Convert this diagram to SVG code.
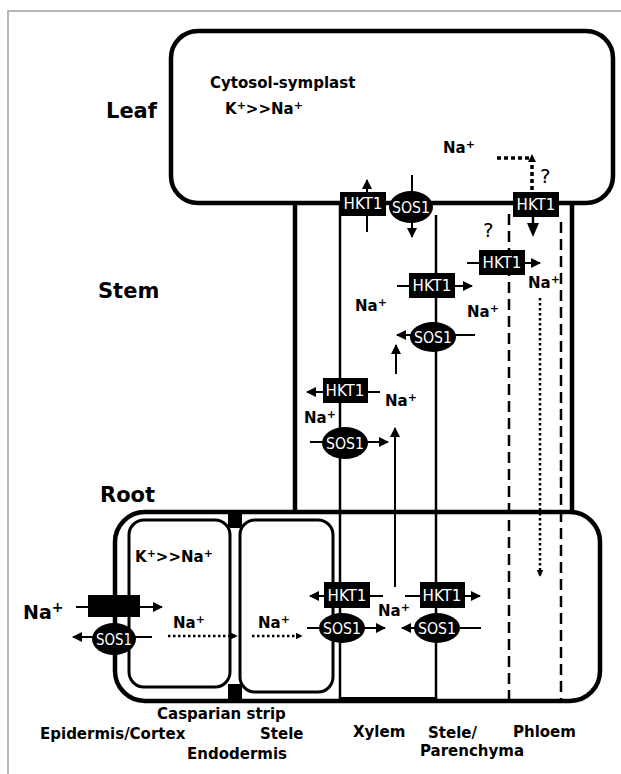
<svg xmlns="http://www.w3.org/2000/svg" width="621" height="774" viewBox="0 0 621 774">
<defs>
<style>
.lbl{font-family:"DejaVu Sans",Verdana,sans-serif;font-weight:bold;font-size:15px;fill:#000}
.big{font-family:"DejaVu Sans",Verdana,sans-serif;font-weight:bold;font-size:21px;fill:#000}
.q{font-family:"DejaVu Sans",Verdana,sans-serif;font-size:20px;fill:#000}
.w{font-family:"DejaVu Sans",Verdana,sans-serif;font-size:15px;fill:#fff;text-anchor:middle}
.thick{fill:none;stroke:#000;stroke-width:4.5}
.thin{fill:none;stroke:#000;stroke-width:2.5}
.cell{fill:none;stroke:#000;stroke-width:3}
.dash{fill:none;stroke:#000;stroke-width:2.5;stroke-dasharray:11 6}
.arr{fill:none;stroke:#000;stroke-width:2;marker-end:url(#ah)}
.dot{fill:none;stroke:#000;stroke-width:2.5;stroke-dasharray:2.5 2.5}
.dotb{fill:none;stroke:#000;stroke-width:3.5;stroke-dasharray:4 3}
.box{fill:#000}
</style>
<marker id="ah" viewBox="0 0 10 10" refX="9" refY="5" markerWidth="10" markerHeight="10" markerUnits="userSpaceOnUse" orient="auto">
<path d="M0,0 L10,5 L0,10 z" fill="#000"/>
</marker>
<marker id="ahs" viewBox="0 0 10 10" refX="9" refY="5" markerWidth="7" markerHeight="7" markerUnits="userSpaceOnUse" orient="auto">
<path d="M0,0 L10,5 L0,10 z" fill="#000"/>
</marker>
</defs>
<rect width="621" height="774" fill="#fff"/>
<path d="M8,774 V11 H621" fill="none" stroke="#a0a0a0" stroke-width="1.5"/>

<!-- organ labels -->
<text class="big" x="106" y="118">Leaf</text>
<text class="big" x="98" y="298">Stem</text>
<text class="big" x="100" y="502">Root</text>

<!-- structure -->
<g id="leaf">
<rect class="thick" x="171" y="31" width="442" height="172" rx="27"/>
<text class="lbl" x="210" y="88">Cytosol-symplast</text>
<text class="lbl" x="225" y="114">K<tspan font-size="11" dy="-5">+</tspan><tspan dy="5">&gt;&gt;Na</tspan><tspan font-size="11" dy="-5">+</tspan></text>
</g>
<g id="stem">
<line class="thick" x1="295" y1="203" x2="295" y2="512"/>
<line class="thick" x1="572" y1="203" x2="572" y2="512"/>
</g>
<g id="root">
<rect class="thick" x="115" y="512" width="485" height="189" rx="30"/>
<rect class="box" x="340" y="697" width="97" height="6"/>
<rect class="cell" x="129" y="520" width="101" height="167" rx="15"/>
<rect class="cell" x="240" y="520" width="93" height="172" rx="15"/>
<rect class="box" x="228" y="512" width="14" height="16"/>
<rect class="box" x="228" y="684" width="14" height="17"/>
<text class="lbl" x="135" y="562">K<tspan font-size="11" dy="-5">+</tspan><tspan dy="5">&gt;&gt;Na</tspan><tspan font-size="11" dy="-5">+</tspan></text>
</g>

<g id="connectors">
<!-- vascular lines -->
<line class="thin" x1="340" y1="203" x2="340" y2="701"/>
<line class="thin" x1="436" y1="215" x2="436" y2="701"/>
<line class="dash" x1="509" y1="214" x2="509" y2="701"/>
<line class="dash" x1="561" y1="222" x2="561" y2="701"/>
<!-- leaf -->
<line class="arr" x1="367" y1="232" x2="367" y2="180"/>
<line class="arr" x1="412" y1="175" x2="412" y2="237"/>
<path class="dotb" d="M497,158 H532 V191"/>
<path d="M528,162 L532,154 L536,162 z" fill="#000"/>
<line x1="533" y1="215" x2="533" y2="225" stroke="#000" stroke-width="2.5"/>
<path d="M527,223 L539,223 L533,237 z" fill="#000"/>
<!-- stem -->
<line class="arr" x1="467" y1="263" x2="540" y2="263"/>
<line class="arr" x1="397" y1="286" x2="472" y2="286"/>
<line class="arr" x1="475" y1="335" x2="397" y2="335"/>
<line class="arr" x1="396" y1="374" x2="396" y2="345"/>
<line class="arr" x1="380" y1="392" x2="307" y2="392"/>
<line class="arr" x1="310" y1="442" x2="388" y2="442"/>
<line class="arr" x1="395" y1="587" x2="395" y2="428"/>
<line class="dot" x1="540" y1="298" x2="540" y2="576" marker-end="url(#ahs)"/>
<!-- root -->
<line class="arr" x1="76" y1="607" x2="162" y2="607"/>
<line class="arr" x1="152" y1="637" x2="73" y2="637"/>
<line class="dot" x1="168" y1="636" x2="237" y2="636" marker-end="url(#ahs)"/>
<line class="dot" x1="252" y1="636" x2="302" y2="636" marker-end="url(#ahs)"/>
<line class="arr" x1="383" y1="596" x2="310" y2="596"/>
<line class="arr" x1="307" y1="628" x2="385" y2="628"/>
<line class="arr" x1="405" y1="596" x2="480" y2="596"/>
<line class="arr" x1="481" y1="628" x2="402" y2="628"/>
</g>

<!-- transporters -->
<g id="hkt1-leaf-xylem"><rect class="box" x="340" y="192" width="46" height="24"/><text class="w" x="363" y="209" textLength="39" lengthAdjust="spacingAndGlyphs">HKT1</text></g>
<g id="sos1-leaf"><ellipse class="box" cx="411" cy="207" rx="22" ry="16"/><text class="w" x="411" y="213" textLength="38" lengthAdjust="spacingAndGlyphs">SOS1</text></g>
<g id="hkt1-leaf-phloem"><rect class="box" x="513" y="192" width="46" height="25"/><text class="w" x="536" y="210" textLength="39" lengthAdjust="spacingAndGlyphs">HKT1</text></g>
<g id="hkt1-stem-phloem"><rect class="box" x="479" y="250" width="46" height="25"/><text class="w" x="502" y="268" textLength="39" lengthAdjust="spacingAndGlyphs">HKT1</text></g>
<g id="hkt1-stem-stele"><rect class="box" x="409" y="273" width="46" height="25"/><text class="w" x="432" y="291" textLength="39" lengthAdjust="spacingAndGlyphs">HKT1</text></g>
<g id="sos1-stem-stele"><ellipse class="box" cx="433" cy="337" rx="23" ry="15"/><text class="w" x="433" y="343" textLength="38" lengthAdjust="spacingAndGlyphs">SOS1</text></g>
<g id="hkt1-stem-xylem"><rect class="box" x="323" y="378" width="45" height="25"/><text class="w" x="345" y="396" textLength="39" lengthAdjust="spacingAndGlyphs">HKT1</text></g>
<g id="sos1-stem-xylem"><ellipse class="box" cx="345" cy="443" rx="23" ry="16"/><text class="w" x="345" y="449" textLength="38" lengthAdjust="spacingAndGlyphs">SOS1</text></g>
<g id="channel-root"><rect class="box" x="88" y="595" width="52" height="22"/></g>
<g id="sos1-root-epidermis"><ellipse class="box" cx="114" cy="639" rx="22" ry="16"/><text class="w" x="114" y="645" textLength="36" lengthAdjust="spacingAndGlyphs">SOS1</text></g>
<g id="hkt1-root-xylem"><rect class="box" x="324" y="582" width="46" height="26"/><text class="w" x="347" y="601" textLength="39" lengthAdjust="spacingAndGlyphs">HKT1</text></g>
<g id="sos1-root-xylem"><ellipse class="box" cx="342" cy="628" rx="23" ry="15"/><text class="w" x="342" y="634" textLength="38" lengthAdjust="spacingAndGlyphs">SOS1</text></g>
<g id="hkt1-root-stele"><rect class="box" x="420" y="582" width="45" height="26"/><text class="w" x="442" y="601" textLength="39" lengthAdjust="spacingAndGlyphs">HKT1</text></g>
<g id="sos1-root-stele"><ellipse class="box" cx="437" cy="628" rx="23" ry="15"/><text class="w" x="437" y="634" textLength="38" lengthAdjust="spacingAndGlyphs">SOS1</text></g>

<!-- ion labels -->
<g id="ions">
<text class="lbl" x="443" y="153">Na<tspan font-size="11" dy="-5">+</tspan></text>
<text class="q" x="540" y="183">?</text>
<text class="q" x="483" y="237">?</text>
<text class="lbl" x="528" y="288">Na<tspan font-size="11" dy="-5">+</tspan></text>
<text class="lbl" x="355" y="311">Na<tspan font-size="11" dy="-5">+</tspan></text>
<text class="lbl" x="467" y="317">Na<tspan font-size="11" dy="-5">+</tspan></text>
<text class="lbl" x="385" y="406">Na<tspan font-size="11" dy="-5">+</tspan></text>
<text class="lbl" x="304" y="423">Na<tspan font-size="11" dy="-5">+</tspan></text>
<text class="big" x="23" y="619" style="font-size:19px">Na<tspan font-size="14" dy="-7">+</tspan></text>
<text class="lbl" x="173" y="628">Na<tspan font-size="11" dy="-5">+</tspan></text>
<text class="lbl" x="258" y="628">Na<tspan font-size="11" dy="-5">+</tspan></text>
<text class="lbl" x="378" y="616">Na<tspan font-size="11" dy="-5">+</tspan></text>
</g>

<!-- tissue labels -->
<g id="labels">
<text class="lbl" x="157" y="719">Casparian strip</text>
<text class="lbl" x="40" y="739">Epidermis/Cortex</text>
<text class="lbl" x="260" y="739">Stele</text>
<text class="lbl" x="187" y="759">Endodermis</text>
<text class="lbl" x="353" y="737">Xylem</text>
<text class="lbl" x="428" y="738">Stele/</text>
<text class="lbl" x="420" y="756">Parenchyma</text>
<text class="lbl" x="513" y="737">Phloem</text>
</g>
</svg>
